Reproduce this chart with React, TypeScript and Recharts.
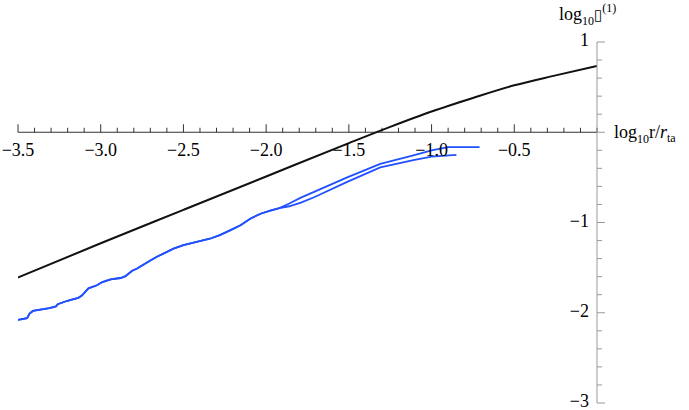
import { LineChart, Line, XAxis, YAxis, ReferenceLine } from 'recharts';

// black curve
const blackX = [-3.5, -3.0, -2.5, -2.0, -1.5, -1.25, -1.0, -0.75, -0.5, -0.25, 0];
const blackY = [-1.61, -1.23, -0.86, -0.49, -0.12, 0.06, 0.23, 0.38, 0.52, 0.63, 0.735];

// blue curves, identical until about -1.9
const blueSharedX = [
  -3.5, -3.445, -3.43, -3.41, -3.31, -3.27, -3.26, -3.205, -3.175, -3.135, -3.114,
  -3.074, -3.023, -2.99, -2.94, -2.88, -2.85, -2.81, -2.78, -2.74, -2.7, -2.66,
  -2.56, -2.5, -2.42, -2.34, -2.28, -2.215, -2.155, -2.094, -2.03, -1.97, -1.92,
];
const blueSharedY = [
  -2.08, -2.06, -2.01, -1.98, -1.95, -1.93, -1.905, -1.87, -1.855, -1.835, -1.81,
  -1.73, -1.695, -1.66, -1.63, -1.615, -1.595, -1.535, -1.51, -1.465, -1.42, -1.38,
  -1.29, -1.25, -1.215, -1.18, -1.14, -1.085, -1.03, -0.955, -0.9, -0.865, -0.84,
];
const blueUpperX = [-1.86, -1.79, -1.71, -1.51, -1.31, -1.11, -1.0, -0.9, -0.71];
const blueUpperY = [-0.79, -0.725, -0.66, -0.5, -0.35, -0.255, -0.2, -0.165, -0.165];
const blueLowerX = [-1.86, -1.79, -1.71, -1.51, -1.31, -1.11, -1.0, -0.85];
const blueLowerY = [-0.82, -0.78, -0.72, -0.55, -0.39, -0.31, -0.27, -0.25];

// axis ticks
const xMajor = [-3.5, -3.0, -2.5, -2.0, -1.5, -1.0, -0.5];
const xMajorLabels = ['−3.5', '−3.0', '−2.5', '−2.0', '−1.5', '−1.0', '−0.5'];
const yMajor = [-3, -2, -1, 0, 1];
const yMajorLabels = ['−3', '−2', '−1', '', '1'];

const xMinor = Array.from({ length: 36 }, (_, i) => Math.round((-3.5 + i * 0.1) * 10) / 10);
const yTicks = Array.from({ length: 21 }, (_, i) => Math.round((-3 + i * 0.2) * 10) / 10);

const toPoints = (xs: number[], ys: number[]) => xs.map((x, i) => ({ x, y: ys[i] }));

const blackData = toPoints(blackX, blackY);
const upperData = toPoints([...blueSharedX, ...blueUpperX], [...blueSharedY, ...blueUpperY]);
const lowerData = toPoints([...blueSharedX, ...blueLowerX], [...blueSharedY, ...blueLowerY]);

const FONT = 'Liberation Serif, serif';
const PX = 4 / 361; // data units per pixel on y

const renderYTick = (props: any) => {
  const { x, y, payload } = props;
  const v = payload.value;
  const idx = yMajor.indexOf(v);
  const major = idx >= 0;
  return (
    <g>
      <line x1={x} x2={x + (major ? 8 : 5)} y1={y} y2={y} stroke='#999' />
      {major && yMajorLabels[idx] && (
        <text x={x - 8} y={y} dy={4} textAnchor='end' fontSize={18} fontFamily={FONT} fill='#000'>
          {yMajorLabels[idx]}
        </text>
      )}
    </g>
  );
};

const renderYTitle = (props: any) => {
  const { x, y } = props.viewBox;
  return (
    <text x={x - 38} y={y - 22} fontSize={18} fontFamily={FONT} fill='#000'>
      log
      <tspan dy={5} fontSize={12}>10</tspan>
      <tspan dy={-5} fontFamily='DejaVu Sans' fontSize={15}>{'\u25AF'}</tspan>
      <tspan dy={-8} fontSize={12}>(1)</tspan>
    </text>
  );
};

const renderXTitle = (props: any) => {
  const { x, y, width } = props.viewBox;
  return (
    <text x={x + width + 17} y={y + 6} fontSize={18} fontFamily={FONT} fill='#000'>
      log
      <tspan dy={5} fontSize={12}>10</tspan>
      <tspan dy={-5}>r/</tspan>
      <tspan fontStyle='italic'>r</tspan>
      <tspan dy={4} fontSize={12}>ta</tspan>
    </text>
  );
};

export default function App() {
  return (
    <div style={{ position: 'absolute', left: 0, top: 0 }}>
      <LineChart
        width={689}
        height={410}
        margin={{ top: 42, right: 91, bottom: 7, left: 18 }}
        style={{ fontFamily: FONT }}
      >
        <XAxis dataKey='x' type='number' domain={[-3.5, 0]} allowDataOverflow hide />
        <YAxis
          orientation='right'
          type='number'
          domain={[-3, 1]}
          allowDataOverflow
          ticks={yTicks}
          interval={0}
          width={1}
          tickSize={0}
          tickMargin={0}
          tickLine={false}
          axisLine={{ stroke: '#999' }}
          tick={renderYTick}
          label={renderYTitle}
        />
        <ReferenceLine y={0} stroke='#333' ifOverflow='visible' label={renderXTitle} />
        {xMinor.map((v) => {
          const idx = xMajor.indexOf(v);
          const len = (idx >= 0 ? 8 : 4.5) * PX;
          return (
            <ReferenceLine
              key={'t' + v}
              segment={[{ x: v, y: 0 }, { x: v, y: len }]}
              stroke='#333'
              ifOverflow='visible'
              label={
                idx >= 0
                  ? { value: xMajorLabels[idx], position: 'bottom', offset: 11, fontSize: 18, fill: '#000', fontFamily: FONT }
                  : undefined
              }
            />
          );
        })}
        <Line data={upperData} dataKey='y' type='linear' stroke='#2150ff' strokeWidth={1.8} dot={false} isAnimationActive={false} />
        <Line data={lowerData} dataKey='y' type='linear' stroke='#2150ff' strokeWidth={1.8} dot={false} isAnimationActive={false} />
        <Line data={blackData} dataKey='y' type='monotone' stroke='#111' strokeWidth={2} dot={false} isAnimationActive={false} />
      </LineChart>
    </div>
  );
}
